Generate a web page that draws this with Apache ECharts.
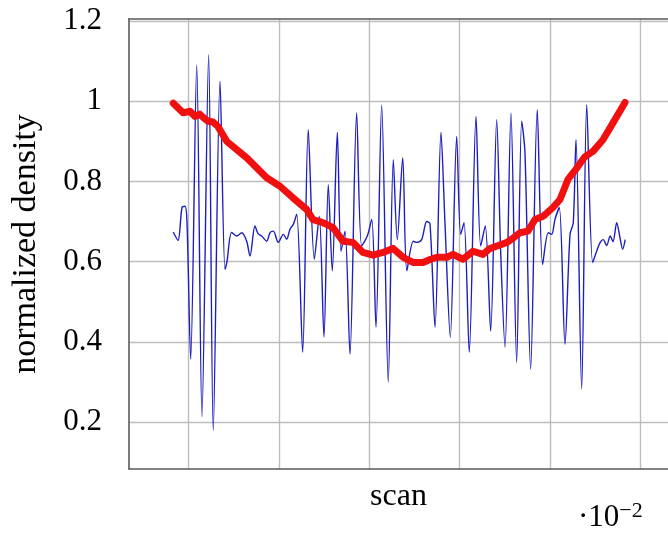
<!DOCTYPE html>
<html>
<head>
<meta charset="utf-8">
<script src="https://cdn.jsdelivr.net/npm/echarts@6/dist/echarts.min.js"></script>
<style>html,body{margin:0;padding:0;background:#fff}#c{width:668px;height:537px}</style>
</head>
<body>
<div id="c"></div>
<script>
// x in units of 1e-2 (scan), y = normalized density
const yTicks = [0.2, 0.4, 0.6, 0.8, 1.0, 1.2];
const xTicks = [0, 1, 2, 3, 4, 5];

const blueX = [-0.171,-0.118,-0.074,-0.041,-0.019,0.022,0.089,0.147,0.221,0.272,0.347,0.402,0.424,0.476,0.532,0.587,0.642,0.679,0.734,0.768,0.808,0.864,0.900,0.937,0.992,1.048,1.085,1.122,1.158,1.196,1.262,1.324,1.391,1.446,1.498,1.546,1.590,1.646,1.687,1.731,1.786,1.860,1.916,1.978,2.027,2.074,2.137,2.210,2.266,2.310,2.370,2.416,2.487,2.525,2.580,2.636,2.672,2.728,2.794,2.838,2.897,2.968,3.012,3.049,3.107,3.182,3.234,3.284,3.344,3.411,3.455,3.503,3.569,3.632,3.688,3.724,3.787,3.860,3.920,3.982,4.020,4.056,4.104,4.167,4.223,4.259,4.289,4.352,4.408,4.474,4.518,4.557,4.591,4.629,4.668,4.699,4.740,4.776,4.806,4.834];
const blueY = [0.674,0.653,0.735,0.738,0.700,0.357,1.090,0.213,1.116,0.179,1.050,0.581,0.600,0.673,0.664,0.672,0.651,0.614,0.689,0.670,0.664,0.651,0.672,0.676,0.648,0.668,0.656,0.681,0.693,0.718,0.374,0.929,0.606,0.713,0.412,0.792,0.577,0.922,0.626,0.676,0.369,0.971,0.639,0.664,0.705,0.437,0.991,0.300,0.854,0.655,0.859,0.577,0.651,0.648,0.655,0.700,0.695,0.437,0.922,0.697,0.412,0.912,0.668,0.697,0.374,0.962,0.639,0.689,0.427,0.954,0.623,0.387,0.971,0.349,0.950,0.872,0.332,0.979,0.593,0.672,0.668,0.705,0.735,0.394,0.668,0.697,0.904,0.283,0.991,0.598,0.626,0.648,0.655,0.640,0.664,0.650,0.697,0.660,0.631,0.655];

const redX = [-0.171,-0.063,0.014,0.070,0.120,0.158,0.214,0.270,0.324,0.421,0.642,0.864,1.011,1.150,1.307,1.377,1.450,1.528,1.598,1.709,1.819,1.930,2.041,2.152,2.262,2.373,2.484,2.595,2.680,2.750,2.860,2.927,3.038,3.148,3.259,3.330,3.414,3.525,3.600,3.669,3.757,3.835,3.924,4.034,4.112,4.200,4.300,4.389,4.477,4.588,4.699,4.832];
const redY = [0.995,0.971,0.975,0.962,0.968,0.960,0.950,0.948,0.937,0.900,0.859,0.809,0.788,0.760,0.730,0.705,0.700,0.693,0.685,0.651,0.648,0.623,0.616,0.623,0.633,0.611,0.598,0.598,0.606,0.611,0.611,0.618,0.606,0.626,0.618,0.632,0.639,0.648,0.660,0.672,0.676,0.705,0.713,0.735,0.755,0.805,0.834,0.862,0.875,0.904,0.946,0.997];

const FONT = 'Liberation Serif';
const chart = echarts.init(document.getElementById('c'), null, {renderer: 'canvas'});
const pairs = (xs, ys) => xs.map((x, i) => [x, ys[i]]);

chart.setOption({
  animation: false,
  backgroundColor: '#fff',
  grid: {left: 129, top: 19, right: 0, bottom: 68, containLabel: false},
  xAxis: [{
    type: 'value', min: -0.661, max: 5.308, position: 'bottom',
    name: 'scan', nameLocation: 'middle', nameGap: 12,
    nameTextStyle: {fontFamily: FONT, fontSize: 32, color: '#000', verticalAlign: 'top'},
    axisLine: {show: true, onZero: false, lineStyle: {color: '#5a5a5a', width: 1.6}},
    axisTick: {show: false, customValues: xTicks},
    axisLabel: {show: false, customValues: xTicks},
    splitLine: {show: true, lineStyle: {color: '#bdbdbd', width: 1.4}}
  }, {
    type: 'value', min: -0.661, max: 5.308, position: 'top',
    axisLine: {show: true, onZero: false, lineStyle: {color: '#5a5a5a', width: 1.6}},
    axisTick: {show: false}, axisLabel: {show: false}, splitLine: {show: false}
  }],
  yAxis: {
    type: 'value', min: 0.083, max: 1.205,
    name: 'normalized density', nameLocation: 'middle', nameGap: 86, nameRotate: 90,
    nameTextStyle: {fontFamily: FONT, fontSize: 34, color: '#000'},
    axisLine: {show: true, onZero: false, lineStyle: {color: '#5a5a5a', width: 1.6}},
    axisTick: {show: false, customValues: yTicks},
    axisLabel: {customValues: yTicks, margin: 27, fontFamily: FONT, fontSize: 31, color: '#000'},
    splitLine: {show: true, lineStyle: {color: '#bdbdbd', width: 1.4}}
  },
  series: [{
    type: 'line', data: pairs(blueX, blueY), showSymbol: false, symbol: 'none',
    smooth: 0.3,
    lineStyle: {color: '#1e1ebe', width: 1.4}, z: 3
  }, {
    type: 'line', data: pairs(redX, redY), showSymbol: false, symbol: 'none',
    lineStyle: {color: '#f01010', width: 7, cap: 'round', join: 'round'}, z: 4
  }],
  graphic: [{
    type: 'text', left: 578, top: 500,
    style: {
      text: '·10{sup|−2}', fontFamily: FONT, fontSize: 31, fill: '#000',
      rich: {sup: {fontFamily: FONT, fontSize: 22, verticalAlign: 'top', padding: [0, 0, 14, 0], fill: '#000'}}
    }
  }]
});
</script>
</body>
</html>
